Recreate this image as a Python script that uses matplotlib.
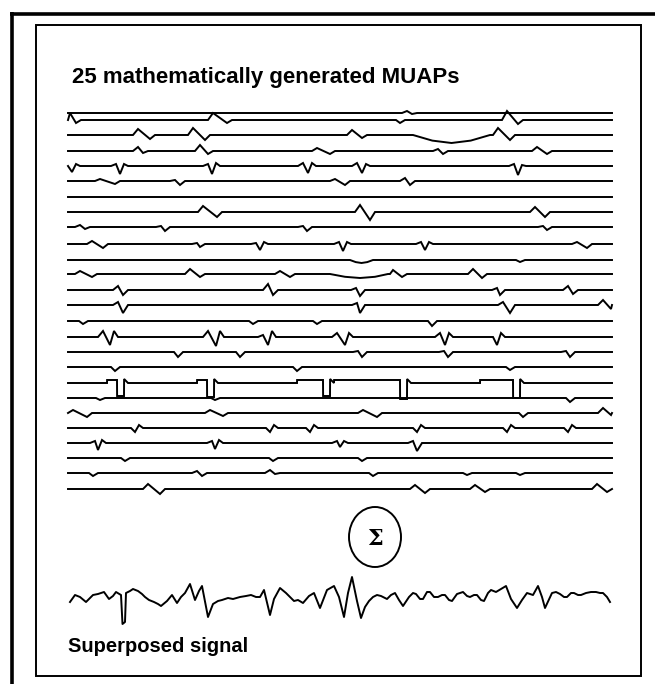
"""25 mathematically generated MUAPs and their superposed signal (redrawn)."""

import matplotlib
matplotlib.use("Agg")
import matplotlib.pyplot as plt
from matplotlib.patches import Ellipse, Rectangle

# ── Data (image-pixel units) ─────────────────────────────────────────
# Baseline of each trace (px from top)
row_y = [113, 120, 135, 151, 166, 181, 197, 212, 227, 244, 260, 274, 290,
         305, 321, 337, 352, 367, 383, 398, 413, 428, 443, 458, 473, 489]
t_start, t_end = 68, 612

# MUAP events per row: (x_up, up, x_down, down, overshoot)
events = [
    [(407, 2, 412, 1, 0)],
    [(70, 7, 76, 3, 0), (213, 7, 227, 3, 0), (396, 0, 400, 3, 0), (507, 9, 518, 4, 0)],
    [(138, 6, 150, 4, 0), (193, 7, 205, 5, 0), (352, 5, 362, 3, 0), (498, 7, 510, 5, 0)],
    [(138, 4, 143, 2, 0), (200, 6, 208, 3, 0), (317, 3, 330, 3, 0), (438, 2, 443, 3, 0),
     (537, 4, 547, 3, 0)],
    [(68, 0, 72, 6, 2), (116, 2, 120, 8, 2), (208, 2, 212, 8, 3), (303, 3, 308, 7, 3),
     (357, 3, 362, 7, 2), (514, 2, 518, 9, 1)],
    [(100, 2, 115, 3, 0), (175, 1, 180, 4, 0), (335, 2, 345, 4, 0), (405, 3, 410, 4, 0)],
    [],
    [(203, 6, 217, 5, 0), (360, 7, 370, 8, 0), (535, 5, 545, 5, 0)],
    [(80, 2, 85, 2, 0), (161, 1, 165, 4, 0), (303, 1, 307, 4, 0), (543, 1, 547, 3, 0)],
    [(92, 3, 103, 4, 0), (197, 1, 200, 3, 0), (256, 1, 260, 6, 2), (339, 2, 343, 7, 2),
     (421, 2, 425, 6, 2), (577, 2, 587, 4, 0)],
    [(516, 0, 520, 2, 0)],
    [(80, 3, 92, 3, 0), (190, 5, 200, 3, 0), (280, 3, 290, 3, 0), (393, 4, 402, 3, 0),
     (473, 5, 482, 4, 0)],
    [(118, 4, 123, 5, 0), (268, 6, 273, 5, 0), (356, 2, 360, 6, 0), (497, 2, 500, 5, 0),
     (568, 4, 573, 4, 0)],
    [(118, 3, 123, 8, 0), (357, 2, 360, 8, 0), (503, 3, 510, 8, 0), (603, 5, 611, 4, 0)],
    [(79, 0, 83, 3, 0), (249, 0, 253, 3, 0), (313, 0, 317, 3, 0), (428, 0, 432, 5, 0)],
    [(103, 6, 110, 8, 6), (208, 6, 216, 9, 6), (263, 2, 268, 8, 6), (337, 4, 345, 8, 4),
     (440, 4, 445, 8, 4), (493, 0, 497, 8, 4)],
    [(174, 0, 178, 5, 0), (236, 0, 240, 5, 0), (358, 1, 362, 5, 0), (444, 1, 448, 5, 0),
     (566, 1, 570, 5, 0)],
    [(111, 0, 115, 4, 0), (293, 0, 297, 4, 0), (506, 0, 510, 3, 0)],
    [],
    [(96, 0, 100, 2, 0), (211, 0, 215, 2, 0), (566, 0, 570, 4, 0)],
    [(73, 3, 87, 4, 0), (210, 3, 223, 3, 0), (363, 3, 377, 4, 0), (519, 0, 523, 4, 0),
     (603, 5, 611, 2, 0)],
    [(131, 0, 135, 4, 3), (266, 0, 270, 4, 3), (306, 0, 310, 4, 3), (413, 0, 417, 4, 3),
     (503, 0, 507, 4, 3), (564, 0, 568, 4, 3)],
    [(95, 2, 98, 7, 3), (212, 2, 215, 6, 3), (337, 2, 340, 4, 2), (413, 2, 417, 8, 0)],
    [(121, 0, 125, 3, 0), (269, 0, 273, 3, 0), (358, 0, 362, 3, 0)],
    [(89, 0, 93, 3, 0), (197, 2, 202, 3, 0), (270, 3, 275, 1, 0), (369, 0, 373, 3, 0),
     (463, 0, 467, 2, 0), (516, 0, 520, 2, 0)],
    [(148, 5, 160, 5, 0), (415, 4, 425, 4, 0), (475, 4, 485, 3, 0), (597, 5, 607, 3, 0)],
]

# Slow sags: (row, x0, x1, depth)
sags = [(2, 413, 490, 8), (10, 350, 373, 3), (11, 330, 390, 4)]

# Square notches on row 18: (step start, drop x, depth)
notch_row = 18
notches = [(107, 117, 13), (197, 207, 14), (297, 323, 13), (334, 400, 16), (480, 513, 15)]

# Superposed signal: time (px from start) and amplitude (px, up positive)
sum_t = [2, 7, 12, 18, 25, 30, 36, 41, 45, 48, 53, 54.5, 57, 58, 62, 65, 70,
         74, 77, 81, 86, 90, 93, 99, 104, 109, 113, 117, 122, 127, 131, 134,
         140, 145, 150, 154, 160, 165, 172, 178, 183, 188, 192, 196, 202, 206,
         212, 218, 222, 226, 230, 235, 241, 246, 252, 259, 266, 271, 276, 280,
         284, 289, 293, 297, 301, 305, 309, 313, 319, 323, 327, 331, 335, 341,
         345, 348, 352, 355, 359, 362, 366, 370, 374, 377, 381, 384, 389, 395,
         399, 402, 406, 409, 413, 416, 420, 423, 428, 433, 438, 443, 449, 454,
         459, 465, 470, 474, 477, 484, 488, 492, 496, 499, 503, 506, 510, 513,
         518, 523, 528, 532, 535, 539, 542]
sum_v = [-5, 2, 0, -5, 2, 3, 5, -2, 1, 5, 2, -27, -25, 4, 6, 8, 6,
         3, 0, -3, -5, -7, -9, -4, 2, -6, 0, 4, 13, -3, 6, 11,
         -20, -7, -4, -3, -1, -2, 0, 1, 2, 0, 0, 7, -18, -2,
         9, 4, 0, -4, -3, -6, 1, 4, -11, 7, 11, 0, -20, 4,
         20, -4, -21, -10, -4, 0, 2, 1, -2, 2, 4, -3, -9, 0,
         4, 3, -2, -2, 5, 5, 0, 0, 2, 2, -3, -4, 3, 5,
         1, 0, 2, 2, -3, -4, 4, 7, 5, 8, 11, -2, -11, -3,
         4, 2, 11, 0, -11, 4, 5, 3, 0, 0, 4, 4, 2, 2,
         4, 5, 5, 4, 4, 0, -5]
sum_base = 597


def trace_points(k):
    pts = [(t_start, 0.0)]
    for xu, au, xd, ad, ap in events[k]:
        pts += [(xu - 5, 0), (xu, au), (xd, -ad)]
        pts += [(xd + 4, ap), (xd + 8, 0)] if ap else [(xd + 5, 0)]
    for r, x0, x1, d in sags:
        if r == k:
            w = x1 - x0
            pts += [(x0, 0), (x0 + 0.25 * w, -0.7 * d), (x0 + 0.5 * w, -d),
                    (x0 + 0.75 * w, -0.7 * d), (x1, 0)]
    if k == notch_row:
        for xs, xdrop, d in notches:
            pts += [(xs, 0), (xs + 0.1, 3), (xdrop, 3), (xdrop + 0.1, -d),
                    (xdrop + 7, -d), (xdrop + 7.1, 4), (xdrop + 11, 0)]
    pts.append((t_end, 0.0))
    pts = sorted(p for p in pts if t_start <= p[0] <= t_end)
    xs = [p[0] for p in pts]
    ys = [row_y[k] - p[1] for p in pts]
    return xs, ys


fig = plt.figure(figsize=(6.55, 6.84), dpi=100)
ax = fig.add_axes([0, 0, 1, 1])
ax.set_xlim(0, 655)
ax.set_ylim(684, 0)
ax.axis("off")

# Frames
ax.plot([10, 655], [13.5, 13.5], color="black", lw=2.6, solid_capstyle="butt")
ax.plot([12, 12], [12, 684], color="black", lw=2.6, solid_capstyle="butt")
ax.add_patch(Rectangle((36, 25), 605, 651, fill=False, ec="black", lw=1.4))

# Title
ax.text(72, 83, "25 mathematically generated MUAPs", fontsize=16,
        fontweight="bold", family="Liberation Sans", ha="left", va="baseline")

# MUAP traces
for k in range(len(row_y)):
    xs, ys = trace_points(k)
    ax.plot(xs, ys, color="black", lw=1.4, solid_joinstyle="miter")

# Sigma
ax.add_patch(Ellipse((375, 537), 52, 60, fill=False, ec="black", lw=1.4))
ax.text(375, 539, "Σ", fontsize=16, fontweight="bold", family="DejaVu Serif",
        ha="center", va="center")

# Superposed signal
ax.plot([t_start + t for t in sum_t], [sum_base - v for v in sum_v],
        color="black", lw=1.4)
ax.text(68, 652, "Superposed signal", fontsize=14.5, fontweight="bold",
        family="Liberation Sans", ha="left", va="baseline")

fig.savefig("out.png", dpi=100)
